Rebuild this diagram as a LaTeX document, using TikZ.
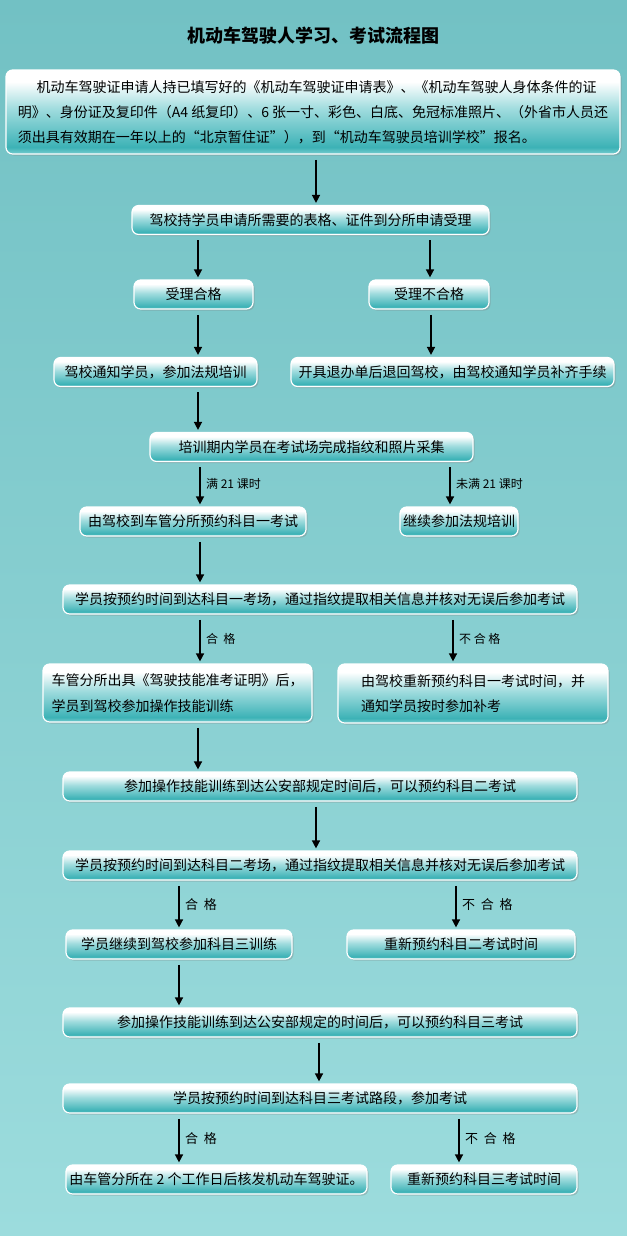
\documentclass[tikz,border=0pt]{standalone}
\usepackage{fontspec}
\newfontfamily\cjk{Noto Sans CJK SC}
\usetikzlibrary{arrows.meta,shadows}

\definecolor{bgtop}{RGB}{114,193,196}
\definecolor{bgbot}{RGB}{156,220,221}
\definecolor{boxteal}{RGB}{60,178,182}
\definecolor{boxlow}{RGB}{105,198,201}
\definecolor{boxpale}{RGB}{160,220,222}
\pgfdeclareverticalshading{boxshade}{100bp}{color(0bp)=(boxlow); color(26bp)=(boxlow); color(29bp)=(boxteal); color(52bp)=(boxpale); color(68bp)=(white); color(100bp)=(white)}

\tikzset{
  box/.style  = {rectangle, rounded corners=5pt, draw=white, line width=0.9pt, shade, shading=boxshade,
                 drop shadow={opacity=.35, shadow xshift=1.2pt, shadow yshift=-1.2pt},
                 minimum height=21.75pt, inner sep=0pt, font=\cjk\fontsize{10.5}{13}\selectfont},
  wide/.style = {box, minimum width=385.5pt},
  arr/.style  = {line width=1.1pt, -{Triangle[length=6pt,width=6pt]}, shorten <=4pt, shorten >=1.5pt},
  lbl/.style  = {right, inner sep=4pt, font=\cjk\fontsize{9}{11}\selectfont},
  lblb/.style = {right, inner sep=4pt, font=\cjk\fontsize{9.75}{12}\selectfont}
}

\begin{document}
\begin{tikzpicture}[x=0.75pt, y=-0.75pt]
  \fill[top color=bgtop, bottom color=bgbot] (0,0) rectangle (627,1236);
  \node[font=\cjk\bfseries\fontsize{13.5}{16}\selectfont] (title) at (313,36) {机动车驾驶人学习、考试流程图};

  % application
  \node[box, minimum width=460.5pt, minimum height=63pt, align=left, font=\cjk\fontsize{10.5}{18.75}\selectfont] (intro) at (313,112)
    {\hspace*{14pt}机动车驾驶证申请人持已填写好的《机动车驾驶证申请表》、《机动车驾驶人身体条件的证\\明》、身份证及复印件（A4 纸复印）、6 张一寸、彩色、白底、免冠标准照片、（外省市人员还\\须出具有效期在一年以上的“北京暂住证”），到“机动车驾驶员培训学校”报名。};
  \node[box, minimum width=267.75pt] (submit) at (310.5,220) {驾校持学员申请所需要的表格、证件到分所申请受理};
  \node[box, minimum width=89.25pt] (okay)  at (193.5,294.5) {受理合格};
  \node[box, minimum width=90pt]    (nokay) at (429,294.5)   {受理不合格};
  \node[box, minimum width=152.25pt] (law)  at (155.5,372) {驾校通知学员，参加法规培训};
  \node[box, minimum width=242.25pt] (back) at (452.5,372) {开具退办单后退回驾校，由驾校通知学员补齐手续};
  \node[box, minimum width=242.25pt] (finger) at (311.5,447) {培训期内学员在考试场完成指纹和照片采集};
  \node[box, minimum width=169.5pt] (book1) at (193,521.5) {由驾校到车管分所预约科目一考试};
  \node[box, minimum width=88.5pt]  (again) at (459,521.5) {继续参加法规培训};

  % subject one
  \node[wide] (exam1) at (320,599.5) {学员按预约时间到达科目一考场，通过指纹提取相关信息并核对无误后参加考试};
  \node[box, minimum width=201.75pt, minimum height=43.5pt, align=left, font=\cjk\fontsize{10.5}{19}\selectfont] (permit) at (177.5,693)
    {车管分所出具《驾驶技能准考证明》后，\\学员到驾校参加操作技能训练};
  \node[box, minimum width=202.5pt, minimum height=44.25pt, align=left, font=\cjk\fontsize{10.5}{19}\selectfont] (rebook1) at (473,693.5)
    {由驾校重新预约科目一考试时间，并\\通知学员按时参加补考};

  % subject two
  \node[wide] (train2) at (320,786.5) {参加操作技能训练到达公安部规定时间后，可以预约科目二考试};
  \node[wide] (exam2)  at (320,865.5) {学员按预约时间到达科目二考场，通过指纹提取相关信息并核对无误后参加考试};
  \node[box, minimum width=169.5pt] (train3)  at (179,944.5) {学员继续到驾校参加科目三训练};
  \node[box, minimum width=171pt]   (rebook2) at (461,944.5) {重新预约科目二考试时间};

  % subject three
  \node[wide] (book3) at (320,1022.5) {参加操作技能训练到达公安部规定的时间后，可以预约科目三考试};
  \node[wide] (exam3) at (320,1098.5) {学员按预约时间到达科目三考试路段，参加考试};
  \node[box, minimum width=225.75pt] (licence) at (216.5,1179.5) {由车管分所在 2 个工作日后核发机动车驾驶证。};
  \node[box, minimum width=139.5pt]  (rebook3) at (484,1179.5)   {重新预约科目三考试时间};

  % arrows
  \draw[arr] (intro.south -| 316,0)  -- (submit.north -| 316,0);
  \draw[arr] (submit.south -| 198,0) -- (okay.north -| 198,0);
  \draw[arr] (submit.south -| 430,0) -- (nokay.north -| 430,0);
  \draw[arr] (okay.south -| 198,0)   -- (law.north -| 198,0);
  \draw[arr] (nokay.south -| 431,0)  -- (back.north -| 431,0);
  \draw[arr] (law.south -| 198,0)    -- (finger.north -| 198,0);
  \draw[arr] (finger.south -| 200,0) -- node[lbl] {满 21 课时} (book1.north -| 200,0);
  \draw[arr] (finger.south -| 450,0) -- node[lbl] {未满 21 课时} (again.north -| 450,0);
  \draw[arr] (book1.south -| 200,0)  -- (exam1.north -| 200,0);
  \draw[arr] (exam1.south -| 200,0)  -- node[lbl] {合~~格} (permit.north -| 200,0);
  \draw[arr] (exam1.south -| 453,0)  -- node[lbl] {不~合~格} (rebook1.north -| 453,0);
  \draw[arr] (permit.south -| 198,0) -- (train2.north -| 198,0);
  \draw[arr] (train2.south -| 316,0) -- (exam2.north -| 316,0);
  \draw[arr] (exam2.south -| 179,0)  -- node[lblb] {合~~格} (train3.north -| 179,0);
  \draw[arr] (exam2.south -| 456,0)  -- node[lblb] {不~~合~~格} (rebook2.north -| 456,0);
  \draw[arr] (train3.south -| 179,0) -- (book3.north -| 179,0);
  \draw[arr] (book3.south -| 319,0)  -- (exam3.north -| 319,0);
  \draw[arr] (exam3.south -| 179,0)  -- node[lblb] {合~~格} (licence.north -| 179,0);
  \draw[arr] (exam3.south -| 459,0)  -- node[lblb] {不~~合~~格} (rebook3.north -| 459,0);
\end{tikzpicture}
\end{document}
